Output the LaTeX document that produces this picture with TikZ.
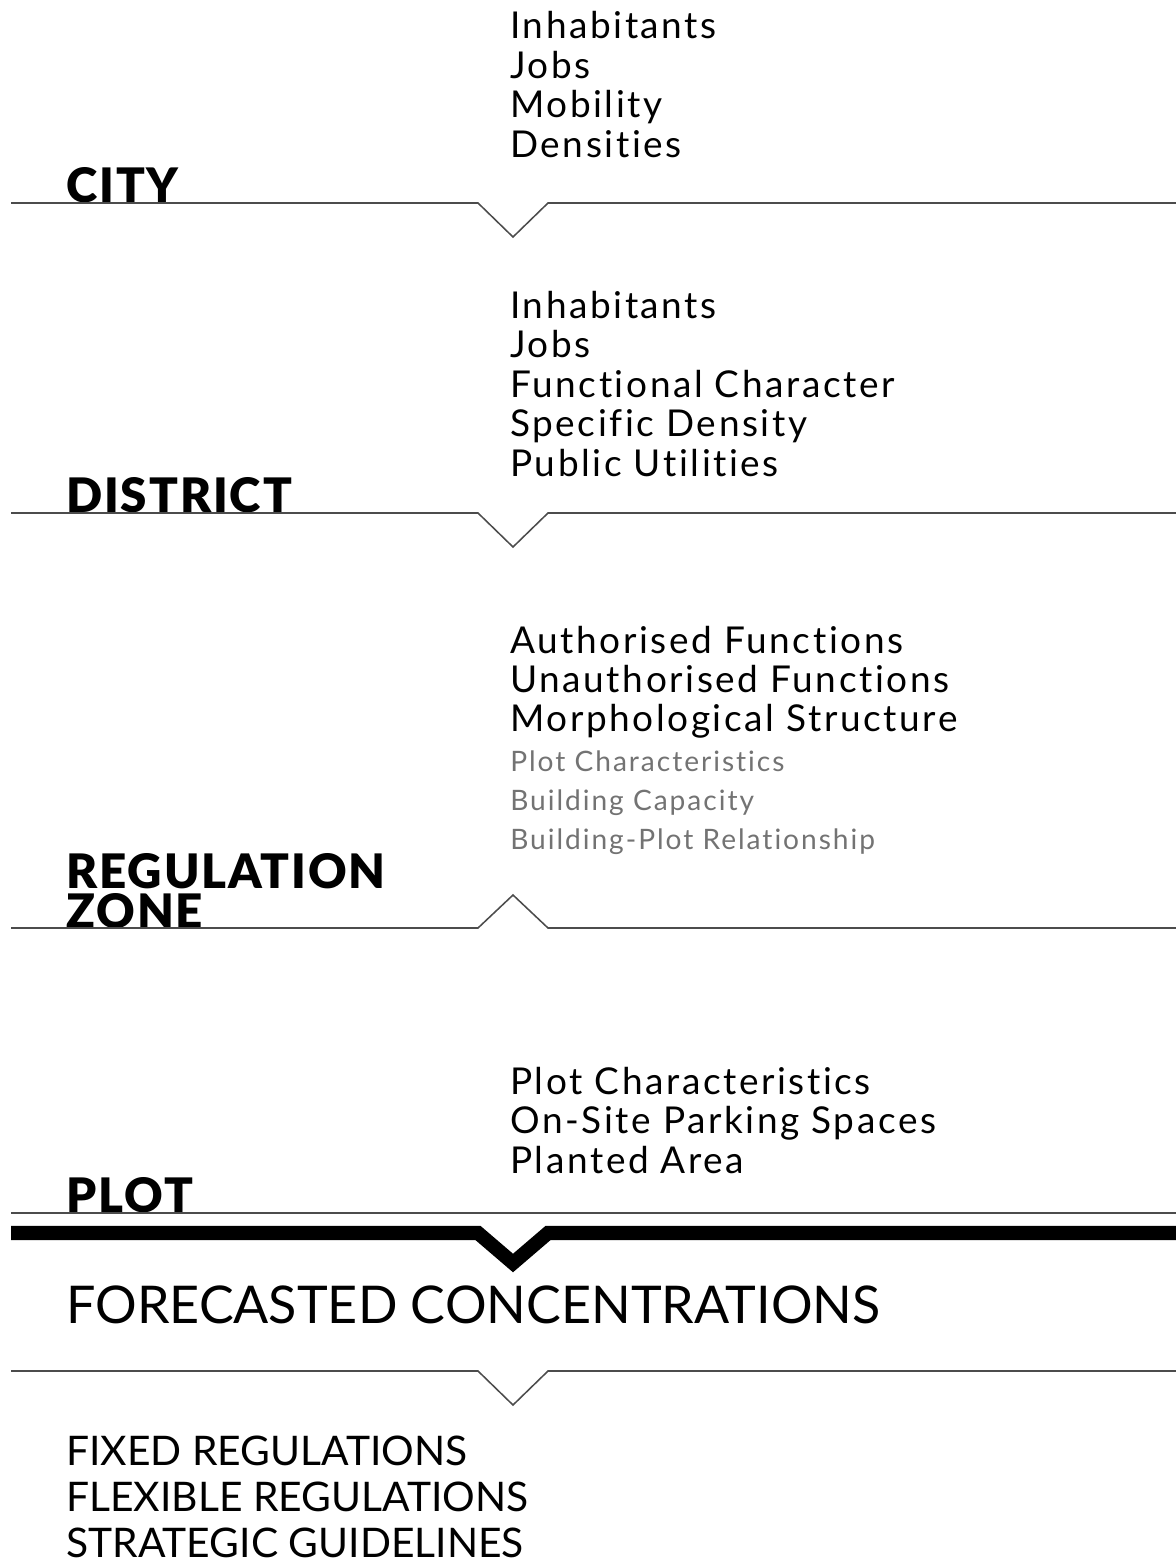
\documentclass[tikz,border=0pt]{standalone}
\usepackage{fontspec}
\setmainfont{Lato}[Ligatures=NoCommon]
\newfontfamily\listfont{Lato}[Ligatures=NoCommon, LetterSpace=7]
\newfontfamily\heavyfont{Lato Black}[LetterSpace=4]

\tikzset{
  scaletitle/.style={anchor=base west, inner sep=0pt, font=\heavyfont\fontsize{33.8}{28}\selectfont},
  entry/.style={anchor=base west, inner sep=0pt, font=\listfont\fontsize{26.3}{28}\selectfont},
  subentry/.style={entry, text=black!55, font=\listfont\fontsize{20}{28}\selectfont},
  outcome/.style={anchor=base west, inner sep=0pt, font=\fontsize{29}{32}\selectfont},
  rule/.style={draw=black!70, line width=1.1pt},
  thickrule/.style={draw=black, line width=10pt}
}

\begin{document}
\begin{tikzpicture}[x=0.025cm, y=-0.025cm]
\useasboundingbox (0,0) rectangle (1176,1564);

% City
\node[scaletitle] (city) at (66,202) {CITY};
\foreach \i/\txt in {0/Inhabitants, 1/Jobs, 2/Mobility, 3/Densities} {
   \node[entry] (city-\i) at (510, 39+39.4*\i) {\txt};
}
\draw[rule] (11,203) -- (478,203) -- (513,237) -- (548,203) -- (1176,203);

% District
\node[scaletitle] (district) at (66,512) {DISTRICT};
\foreach \i/\txt in {0/Inhabitants, 1/Jobs, 2/Functional Character, 3/Specific Density, 4/Public Utilities} {
   \node[entry] (district-\i) at (510, 318+39.5*\i) {\txt};
}
\draw[rule] (11,513) -- (478,513) -- (513,547) -- (548,513) -- (1176,513);

% Regulation zone (chevron points up)
\node[scaletitle] (zone) at (66,888) {REGULATION};
\node[scaletitle] (zone-b) at (66,928) {ZONE};
\foreach \i/\txt in {0/Authorised Functions, 1/Unauthorised Functions, 2/Morphological Structure} {
   \node[entry] (zone-\i) at (510, 653+39*\i) {\txt};
}
\foreach \i/\txt in {0/Plot Characteristics, 1/Building Capacity, 2/Building-Plot Relationship} {
   \node[subentry] (zone-sub-\i) at (510, 771+39*\i) {\txt};
}
\draw[rule] (11,928) -- (478,928) -- (513,895) -- (548,928) -- (1176,928);

% Plot
\node[scaletitle] (plot) at (66,1212) {PLOT};
\foreach \i/\txt in {0/Plot Characteristics, 1/On-Site Parking Spaces, 2/Planted Area} {
   \node[entry] (plot-\i) at (510, 1094+39.5*\i) {\txt};
}
\draw[rule] (11,1213) -- (1176,1213);
\draw[thickrule] (11,1233) -- (478,1233) -- (513,1263) -- (548,1233) -- (1176,1233);

% Result
\node[anchor=base west, inner sep=0pt, font=\fontsize{37}{40}\selectfont] (forecast) at (66,1323) {FORECASTED CONCENTRATIONS};
\draw[rule] (11,1371) -- (478,1371) -- (513,1405) -- (548,1371) -- (1176,1371);

\foreach \i/\txt in {0/FIXED REGULATIONS, 1/FLEXIBLE REGULATIONS, 2/STRATEGIC GUIDELINES} {
   \node[outcome] (rule-\i) at (66, 1465+46*\i) {\txt};
}
\end{tikzpicture}
\end{document}
